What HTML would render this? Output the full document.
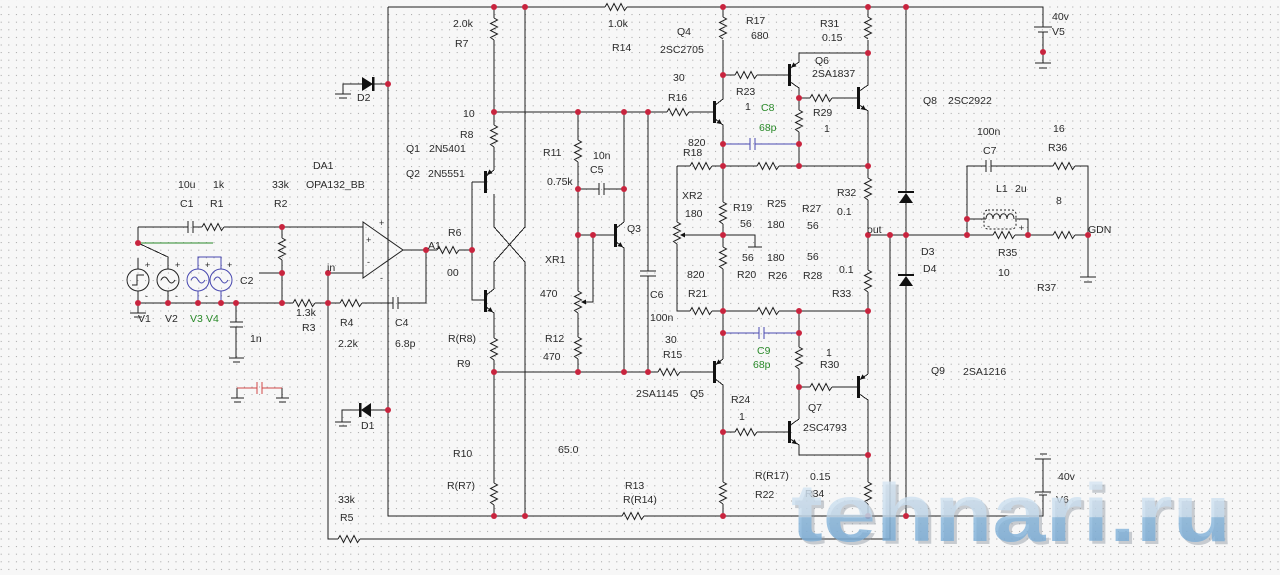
<!DOCTYPE html>
<html><head><meta charset="utf-8"><style>
html,body{margin:0;padding:0;background:#f7f7f7;}
svg{display:block}
text{font-family:"Liberation Sans",sans-serif;font-size:10.5px;fill:#2a2a2a}
.g{fill:#2a8a2a}
.sm{font-size:9px}
</style></head><body>
<svg width="1280" height="575" viewBox="0 0 1280 575" xmlns="http://www.w3.org/2000/svg">
<defs>
<pattern id="grid" x="0.7" y="6.5" width="7.6" height="7.6" patternUnits="userSpaceOnUse">
<rect x="0" y="0" width="1" height="1" fill="#a0a0a0"/>
</pattern>
<linearGradient id="wm" gradientUnits="userSpaceOnUse" x1="0" y1="470" x2="0" y2="548">
<stop offset="0" stop-color="#dce9f4"/>
<stop offset="0.6" stop-color="#c4dbee"/>
<stop offset="0.61" stop-color="#86b6dc"/>
<stop offset="1" stop-color="#74a8d4"/>
</linearGradient>
</defs>
<rect width="1280" height="575" fill="#f7f7f7"/>
<rect width="1280" height="575" fill="url(#grid)"/>

<g fill="none" stroke="#222" stroke-width="1" shape-rendering="crispEdges">
<path d="M388,7 H605 M627,7 H1043 V27 M1043,32 V63
M388,7 V516 H622 M644,516 H1043 V495 M1043,492 V459
M525,7 V227 L494,262 V289
M494,194 V227 L525,262 V516
M494,7 V18 M494,40 V125 M494,147 V170
M485,177 L494,170 M485,296 L494,289
M472,182 H485 M472,182 V300 H485
M485,306 L494,313 V338 M494,360 V483 M494,505 V516
M426,250 H437 M459,250 H472
M494,112 H667 M689,112 H714
M578,112 V140 M578,162 V291 M578,313 V337 M578,359 V372
M578,189 H599 M604,189 H624
M624,112 V222 M615,229 L624,222 M615,241 L624,248 V372
M578,235 H615
M593,235 V302 H585
M648,112 V271 M648,276 V372
M494,372 H658 M680,372 H714
M714,106 L723,99 V75 M714,118 L723,125 V202 M723,40 V75 M723,7 V17
M723,224 V247 M723,269 V359 M714,366 L723,359 M714,378 L723,385 V482 M723,504 V516
M723,75 H735 M757,75 H789
M789,69 L799,62 V53 H868 M789,81 L799,88 V110 M799,132 V166
M799,98 H810 M832,98 H858
M858,92 L868,85 V40 M868,7 V17 M858,104 L868,111 V178 M868,200 V270 M868,292 V374
M858,381 L868,374 M858,393 L868,400 V482 M868,504 V516
M677,166 H690 M712,166 H757 M779,166 H868
M677,166 V222 M677,244 V311 H690 M712,311 H757 M779,311 H868
M723,235 H683 M723,235 H755 V247 M748,247 H762
M799,311 V347 M799,369 V419 M789,426 L799,419 M789,438 L799,445 V455 H868
M799,387 H810 M832,387 H858
M723,432 H735 M757,432 H789
M868,235 H993 M1015,235 H1053 M1075,235 H1088 V277
M890,235 V539 H360 M338,539 H328 V273
M906,7 V192 M906,203 V275 M906,286 V516
M967,235 V166 H986 M991,166 H1053 M1075,166 H1088 V235
M967,219 H986 M1015,219 H1028 V235
M1080,277 H1096 M1084,282 H1092
M1034,27 H1052 M1038,32 H1048 M1035,63 H1051 M1039,68 H1047
M1035,492 H1051 M1039,495 H1047 M1035,459 H1051 M1040,454 H1047
M138,227 H188 M193,227 H202 M224,227 H363
M138,227 V243 M138,243 L168,257 V269 M138,258 V269
M282,227 V238 M282,260 V303 M259,273 H282
M328,273 H363
M403,250 H426 V303 H398
M393,303 H362 M340,303 H315 M293,303 H138
M138,291 V303 M168,291 V303
M236,303 V322 M236,327 V358 M229,358 H244 M233,362 H240
M188,221 V233 M193,221 V233
M393,297 V309 M398,297 V309
M230,322 H243 M230,327 H243
M599,183 V195 M604,183 V195
M640,271 H656 M640,276 H656
M986,160 V172 M991,160 V172
M388,84 H374 M362,84 H343 V94 M335,94 H351 M339,98 H347
M388,410 H371 M360,410 H342 V422 M335,422 H351 M339,426 H347
M138,303 V313 M130,313 H146 M134,317 H142
M237,398 V388 M282,388 V398 M231,398 H244 M234,402 H241 M276,398 H289 M279,402 H286"/>
</g>
<g fill="none" stroke="#d04848" stroke-width="1" shape-rendering="crispEdges">
<path d="M237,388 H257 M262,388 H282 M257,382 V394 M262,382 V394"/>
</g>
<g fill="none" stroke="#4848b0" stroke-width="1" shape-rendering="crispEdges">
<path d="M723,144 H750 M755,144 H799 M750,138 V150 M755,138 V150
M723,333 H759 M764,333 H799 M759,327 V339 M764,327 V339
M198,269 V257 H221 V269 M198,291 V303 M221,291 V303"/>
</g>
<path d="M138,243 H213" stroke="#2a8a2a" stroke-width="1" shape-rendering="crispEdges"/>

<g fill="none" stroke="#222" stroke-width="1">
<path d="M202,227 l2,-3.5 l3.5,7 l3.5,-7 l3.5,7 l3.5,-7 l3.5,7 l2.5,-3.5
M293,303 l2,-3.5 l3.5,7 l3.5,-7 l3.5,7 l3.5,-7 l3.5,7 l2.5,-3.5
M340,303 l2,-3.5 l3.5,7 l3.5,-7 l3.5,7 l3.5,-7 l3.5,7 l2.5,-3.5
M338,539 l2,-3.5 l3.5,7 l3.5,-7 l3.5,7 l3.5,-7 l3.5,7 l2.5,-3.5
M437,250 l2,-3.5 l3.5,7 l3.5,-7 l3.5,7 l3.5,-7 l3.5,7 l2.5,-3.5
M605,7 l2,-3.5 l3.5,7 l3.5,-7 l3.5,7 l3.5,-7 l3.5,7 l2.5,-3.5
M622,516 l2,-3.5 l3.5,7 l3.5,-7 l3.5,7 l3.5,-7 l3.5,7 l2.5,-3.5
M667,112 l2,-3.5 l3.5,7 l3.5,-7 l3.5,7 l3.5,-7 l3.5,7 l2.5,-3.5
M658,372 l2,-3.5 l3.5,7 l3.5,-7 l3.5,7 l3.5,-7 l3.5,7 l2.5,-3.5
M735,75 l2,-3.5 l3.5,7 l3.5,-7 l3.5,7 l3.5,-7 l3.5,7 l2.5,-3.5
M810,98 l2,-3.5 l3.5,7 l3.5,-7 l3.5,7 l3.5,-7 l3.5,7 l2.5,-3.5
M690,166 l2,-3.5 l3.5,7 l3.5,-7 l3.5,7 l3.5,-7 l3.5,7 l2.5,-3.5
M757,166 l2,-3.5 l3.5,7 l3.5,-7 l3.5,7 l3.5,-7 l3.5,7 l2.5,-3.5
M690,311 l2,-3.5 l3.5,7 l3.5,-7 l3.5,7 l3.5,-7 l3.5,7 l2.5,-3.5
M757,311 l2,-3.5 l3.5,7 l3.5,-7 l3.5,7 l3.5,-7 l3.5,7 l2.5,-3.5
M810,387 l2,-3.5 l3.5,7 l3.5,-7 l3.5,7 l3.5,-7 l3.5,7 l2.5,-3.5
M735,432 l2,-3.5 l3.5,7 l3.5,-7 l3.5,7 l3.5,-7 l3.5,7 l2.5,-3.5
M1053,166 l2,-3.5 l3.5,7 l3.5,-7 l3.5,7 l3.5,-7 l3.5,7 l2.5,-3.5
M993,235 l2,-3.5 l3.5,7 l3.5,-7 l3.5,7 l3.5,-7 l3.5,7 l2.5,-3.5
M1053,235 l2,-3.5 l3.5,7 l3.5,-7 l3.5,7 l3.5,-7 l3.5,7 l2.5,-3.5
M282,238 l3.5,2 l-7,3.5 l7,3.5 l-7,3.5 l7,3.5 l-7,3.5 l3.5,2.5
M494,18 l3.5,2 l-7,3.5 l7,3.5 l-7,3.5 l7,3.5 l-7,3.5 l3.5,2.5
M494,125 l3.5,2 l-7,3.5 l7,3.5 l-7,3.5 l7,3.5 l-7,3.5 l3.5,2.5
M494,338 l3.5,2 l-7,3.5 l7,3.5 l-7,3.5 l7,3.5 l-7,3.5 l3.5,2.5
M494,483 l3.5,2 l-7,3.5 l7,3.5 l-7,3.5 l7,3.5 l-7,3.5 l3.5,2.5
M578,140 l3.5,2 l-7,3.5 l7,3.5 l-7,3.5 l7,3.5 l-7,3.5 l3.5,2.5
M578,337 l3.5,2 l-7,3.5 l7,3.5 l-7,3.5 l7,3.5 l-7,3.5 l3.5,2.5
M578,291 l3.5,2 l-7,3.5 l7,3.5 l-7,3.5 l7,3.5 l-7,3.5 l3.5,2.5
M723,17 l3.5,2 l-7,3.5 l7,3.5 l-7,3.5 l7,3.5 l-7,3.5 l3.5,2.5
M868,17 l3.5,2 l-7,3.5 l7,3.5 l-7,3.5 l7,3.5 l-7,3.5 l3.5,2.5
M799,110 l3.5,2 l-7,3.5 l7,3.5 l-7,3.5 l7,3.5 l-7,3.5 l3.5,2.5
M723,202 l3.5,2 l-7,3.5 l7,3.5 l-7,3.5 l7,3.5 l-7,3.5 l3.5,2.5
M723,247 l3.5,2 l-7,3.5 l7,3.5 l-7,3.5 l7,3.5 l-7,3.5 l3.5,2.5
M677,222 l3.5,2 l-7,3.5 l7,3.5 l-7,3.5 l7,3.5 l-7,3.5 l3.5,2.5
M868,178 l3.5,2 l-7,3.5 l7,3.5 l-7,3.5 l7,3.5 l-7,3.5 l3.5,2.5
M868,270 l3.5,2 l-7,3.5 l7,3.5 l-7,3.5 l7,3.5 l-7,3.5 l3.5,2.5
M799,347 l3.5,2 l-7,3.5 l7,3.5 l-7,3.5 l7,3.5 l-7,3.5 l3.5,2.5
M723,482 l3.5,2 l-7,3.5 l7,3.5 l-7,3.5 l7,3.5 l-7,3.5 l3.5,2.5
M868,482 l3.5,2 l-7,3.5 l7,3.5 l-7,3.5 l7,3.5 l-7,3.5 l3.5,2.5"/>
<polygon points="363,222 363,278 403,250"/>
<circle cx="138" cy="280" r="11"/>
<circle cx="168" cy="280" r="11"/>
<path d="M132,285 H137 V275 H144"/>
<path d="M161,280 q3.5,-6 7,0 t7,0"/>
<path d="M986,219 c0,-7 7,-7 7,0 c0,-7 7,-7 7,0 c0,-7 7,-7 7,0 c0,-7 7,-7 7,0"/>
<rect x="984" y="210" width="32" height="19" rx="4" stroke-dasharray="2,2"/>
</g>
<g fill="none" stroke="#4848b0" stroke-width="1">
<circle cx="198" cy="280" r="11"/>
<circle cx="221" cy="280" r="11"/>
<path d="M191,280 q3.5,-6 7,0 t7,0 M214,280 q3.5,-6 7,0 t7,0"/>
</g>

<g fill="#111">
<rect x="484" y="171" width="3" height="22"/>
<rect x="484" y="290" width="3" height="22"/>
<rect x="614" y="224" width="3" height="23"/>
<rect x="713" y="101" width="3" height="22"/>
<rect x="713" y="361" width="3" height="22"/>
<rect x="788" y="64" width="3" height="22"/>
<rect x="857" y="87" width="3" height="22"/>
<rect x="788" y="421" width="3" height="22"/>
<rect x="857" y="376" width="3" height="22"/>
<polygon points="722,124.2 716.5,123.1 719.5,119.1"/>
<polygon points="866,110.2 860.5,109.1 863.5,105.1"/>
<polygon points="797,444.2 791.5,443.1 794.5,439.1"/>
<polygon points="623,247.2 617.5,246.1 620.5,242.1"/>
<polygon points="493,312.2 487.5,311.1 490.5,307.1"/>
<polygon points="716,364.5 721.5,363.4 718.5,359.4"/>
<polygon points="791,67.5 796.5,66.4 793.5,62.4"/>
<polygon points="860,379.5 865.5,378.4 862.5,374.4"/>
<polygon points="487,174.5 492.5,173.4 489.5,169.4"/>
<polygon points="581,302 586,299.5 586,304.5"/>
<polygon points="680,235 685,232.5 685,237.5"/>
<polygon points="362,77 362,91 373,84"/>
<rect x="372" y="77" width="2.5" height="14"/>
<polygon points="371,403 371,417 361,410"/>
<rect x="359" y="403" width="2.5" height="14"/>
<rect x="898" y="191" width="16" height="2"/>
<polygon points="899,203 913,203 906,193"/>
<rect x="898" y="274" width="16" height="2"/>
<polygon points="899,286 913,286 906,276"/>
</g>

<g fill="#c8243e">
<circle cx="388" cy="84" r="3"/><circle cx="388" cy="410" r="3"/>
<circle cx="494" cy="7" r="3"/><circle cx="525" cy="7" r="3"/><circle cx="723" cy="7" r="3"/><circle cx="868" cy="7" r="3"/><circle cx="906" cy="7" r="3"/><circle cx="1043" cy="52" r="3"/>
<circle cx="494" cy="112" r="3"/><circle cx="578" cy="112" r="3"/><circle cx="624" cy="112" r="3"/><circle cx="648" cy="112" r="3"/>
<circle cx="723" cy="75" r="3"/><circle cx="799" cy="98" r="3"/><circle cx="868" cy="53" r="3"/>
<circle cx="723" cy="144" r="3"/><circle cx="799" cy="144" r="3"/><circle cx="723" cy="166" r="3"/><circle cx="799" cy="166" r="3"/><circle cx="868" cy="166" r="3"/>
<circle cx="578" cy="189" r="3"/><circle cx="624" cy="189" r="3"/><circle cx="578" cy="235" r="3"/><circle cx="593" cy="235" r="3"/>
<circle cx="723" cy="235" r="3"/><circle cx="868" cy="235" r="3"/><circle cx="890" cy="235" r="3"/><circle cx="906" cy="235" r="3"/>
<circle cx="967" cy="235" r="3"/><circle cx="967" cy="219" r="3"/><circle cx="1028" cy="235" r="3"/><circle cx="1088" cy="235" r="3"/>
<circle cx="472" cy="250" r="3"/><circle cx="426" cy="250" r="3"/><circle cx="328" cy="273" r="3"/><circle cx="282" cy="227" r="3"/><circle cx="282" cy="273" r="3"/><circle cx="138" cy="243" r="3"/>
<circle cx="138" cy="303" r="3"/><circle cx="168" cy="303" r="3"/><circle cx="198" cy="303" r="3"/><circle cx="221" cy="303" r="3"/><circle cx="236" cy="303" r="3"/><circle cx="282" cy="303" r="3"/><circle cx="328" cy="303" r="3"/>
<circle cx="723" cy="311" r="3"/><circle cx="799" cy="311" r="3"/><circle cx="868" cy="311" r="3"/><circle cx="723" cy="333" r="3"/><circle cx="799" cy="333" r="3"/>
<circle cx="494" cy="372" r="3"/><circle cx="578" cy="372" r="3"/><circle cx="624" cy="372" r="3"/><circle cx="648" cy="372" r="3"/>
<circle cx="799" cy="387" r="3"/><circle cx="723" cy="432" r="3"/><circle cx="868" cy="455" r="3"/>
<circle cx="494" cy="516" r="3"/><circle cx="525" cy="516" r="3"/><circle cx="723" cy="516" r="3"/><circle cx="868" cy="516" r="3"/><circle cx="906" cy="516" r="3"/>
</g>

<g>
<text x="178" y="188">10u</text><text x="213" y="188">1k</text><text x="272" y="188">33k</text>
<text x="313" y="169">DA1</text><text x="306" y="188">OPA132_BB</text>
<text x="180" y="207">C1</text><text x="210" y="207">R1</text><text x="274" y="207">R2</text>
<text x="240" y="284">C2</text>
<text x="138" y="322">V1</text><text x="165" y="322">V2</text>
<text class="g" x="190" y="322">V3</text><text class="g" x="206" y="322">V4</text>
<text x="250" y="342">1n</text>
<text x="296" y="316">1.3k</text><text x="302" y="331">R3</text>
<text x="340" y="326">R4</text><text x="338" y="347">2.2k</text>
<text x="395" y="326">C4</text><text x="395" y="347">6.8p</text>
<text x="327" y="271">in</text><text x="428" y="249">A1</text>
<text x="448" y="236">R6</text><text x="447" y="276">00</text>
<text x="357" y="101">D2</text><text x="361" y="429">D1</text>
<text x="338" y="503">33k</text><text x="340" y="521">R5</text>
<text x="406" y="152">Q1</text><text x="429" y="152">2N5401</text>
<text x="406" y="177">Q2</text><text x="428" y="177">2N5551</text>
<text x="453" y="27">2.0k</text><text x="455" y="47">R7</text>
<text x="463" y="117">10</text><text x="460" y="138">R8</text>
<text x="448" y="342">R(R8)</text><text x="457" y="367">R9</text>
<text x="453" y="457">R10</text><text x="447" y="489">R(R7)</text>
<text x="558" y="453">65.0</text>
<text x="625" y="489">R13</text><text x="623" y="503">R(R14)</text>
<text x="608" y="27">1.0k</text><text x="612" y="51">R14</text>
<text x="543" y="156">R11</text><text x="593" y="159">10n</text><text x="590" y="173">C5</text><text x="547" y="185">0.75k</text>
<text x="627" y="232">Q3</text>
<text x="545" y="263">XR1</text><text x="540" y="297">470</text>
<text x="545" y="342">R12</text><text x="543" y="360">470</text>
<text x="650" y="298">C6</text><text x="650" y="321">100n</text>
<text x="665" y="343">30</text><text x="663" y="358">R15</text>
<text x="636" y="397">2SA1145</text><text x="690" y="397">Q5</text>
<text x="677" y="35">Q4</text><text x="660" y="53">2SC2705</text>
<text x="673" y="81">30</text><text x="668" y="101">R16</text>
<text x="746" y="24">R17</text><text x="751" y="39">680</text>
<text x="820" y="27">R31</text><text x="822" y="41">0.15</text>
<text x="815" y="64">Q6</text><text x="812" y="77">2SA1837</text>
<text x="736" y="95">R23</text><text x="745" y="110">1</text>
<text class="g" x="761" y="111">C8</text><text class="g" x="759" y="131">68p</text>
<text x="813" y="116">R29</text><text x="824" y="132">1</text>
<text x="688" y="146">820</text><text x="683" y="156">R18</text>
<text x="682" y="199">XR2</text><text x="685" y="217">180</text>
<text x="733" y="211">R19</text><text x="740" y="227">56</text>
<text x="767" y="207">R25</text><text x="767" y="228">180</text>
<text x="802" y="212">R27</text><text x="807" y="229">56</text>
<text x="837" y="196">R32</text><text x="837" y="215">0.1</text>
<text x="867" y="233">out</text>
<text x="742" y="261">56</text><text x="767" y="261">180</text><text x="807" y="260">56</text>
<text x="839" y="273">0.1</text>
<text x="687" y="278">820</text><text x="737" y="278">R20</text><text x="768" y="279">R26</text><text x="803" y="279">R28</text>
<text x="832" y="297">R33</text><text x="688" y="297">R21</text>
<text class="g" x="757" y="354">C9</text><text class="g" x="753" y="368">68p</text>
<text x="826" y="356">1</text><text x="820" y="368">R30</text>
<text x="731" y="403">R24</text><text x="739" y="420">1</text>
<text x="808" y="411">Q7</text><text x="803" y="431">2SC4793</text>
<text x="755" y="479">R(R17)</text><text x="810" y="480">0.15</text>
<text x="755" y="498">R22</text><text x="805" y="497">R34</text>
<text x="923" y="104">Q8</text><text x="948" y="104">2SC2922</text>
<text x="931" y="374">Q9</text><text x="963" y="375">2SA1216</text>
<text x="1052" y="20">40v</text><text x="1052" y="35">V5</text>
<text x="977" y="135">100n</text><text x="983" y="154">C7</text>
<text x="1053" y="132">16</text><text x="1048" y="151">R36</text>
<text x="996" y="192">L1</text><text x="1015" y="192">2u</text>
<text x="1056" y="204">8</text>
<text x="1088" y="233">GDN</text>
<text x="921" y="255">D3</text><text x="923" y="272">D4</text>
<text x="998" y="256">R35</text><text x="998" y="276">10</text>
<text x="1037" y="291">R37</text>
<text x="1058" y="480">40v</text><text x="1056" y="503">V6</text>
<text class="sm" x="366" y="243">+</text><text class="sm" x="367" y="265">-</text>
<text class="sm" x="379" y="226">+</text><text class="sm" x="380" y="281">-</text>
<text class="sm" x="145" y="268">+</text><text class="sm" x="175" y="268">+</text><text class="sm" x="205" y="268">+</text><text class="sm" x="227" y="268">+</text>
<text class="sm" x="145" y="299">-</text><text class="sm" x="175" y="299">-</text><text class="sm" x="205" y="299">-</text><text class="sm" x="227" y="299">-</text>
<text class="sm" x="987" y="229">-</text><text class="sm" x="1019" y="231">+</text>
</g>

<g>
<text x="794" y="544" textLength="440" lengthAdjust="spacingAndGlyphs" style="fill:#8e98a2;font-size:82px;font-weight:bold" opacity="0.45">tehnari.ru</text>
<text x="791" y="541" textLength="440" lengthAdjust="spacingAndGlyphs" style="fill:url(#wm);font-size:82px;font-weight:bold" opacity="0.78">tehnari.ru</text>
</g>
</svg>
</body></html>
